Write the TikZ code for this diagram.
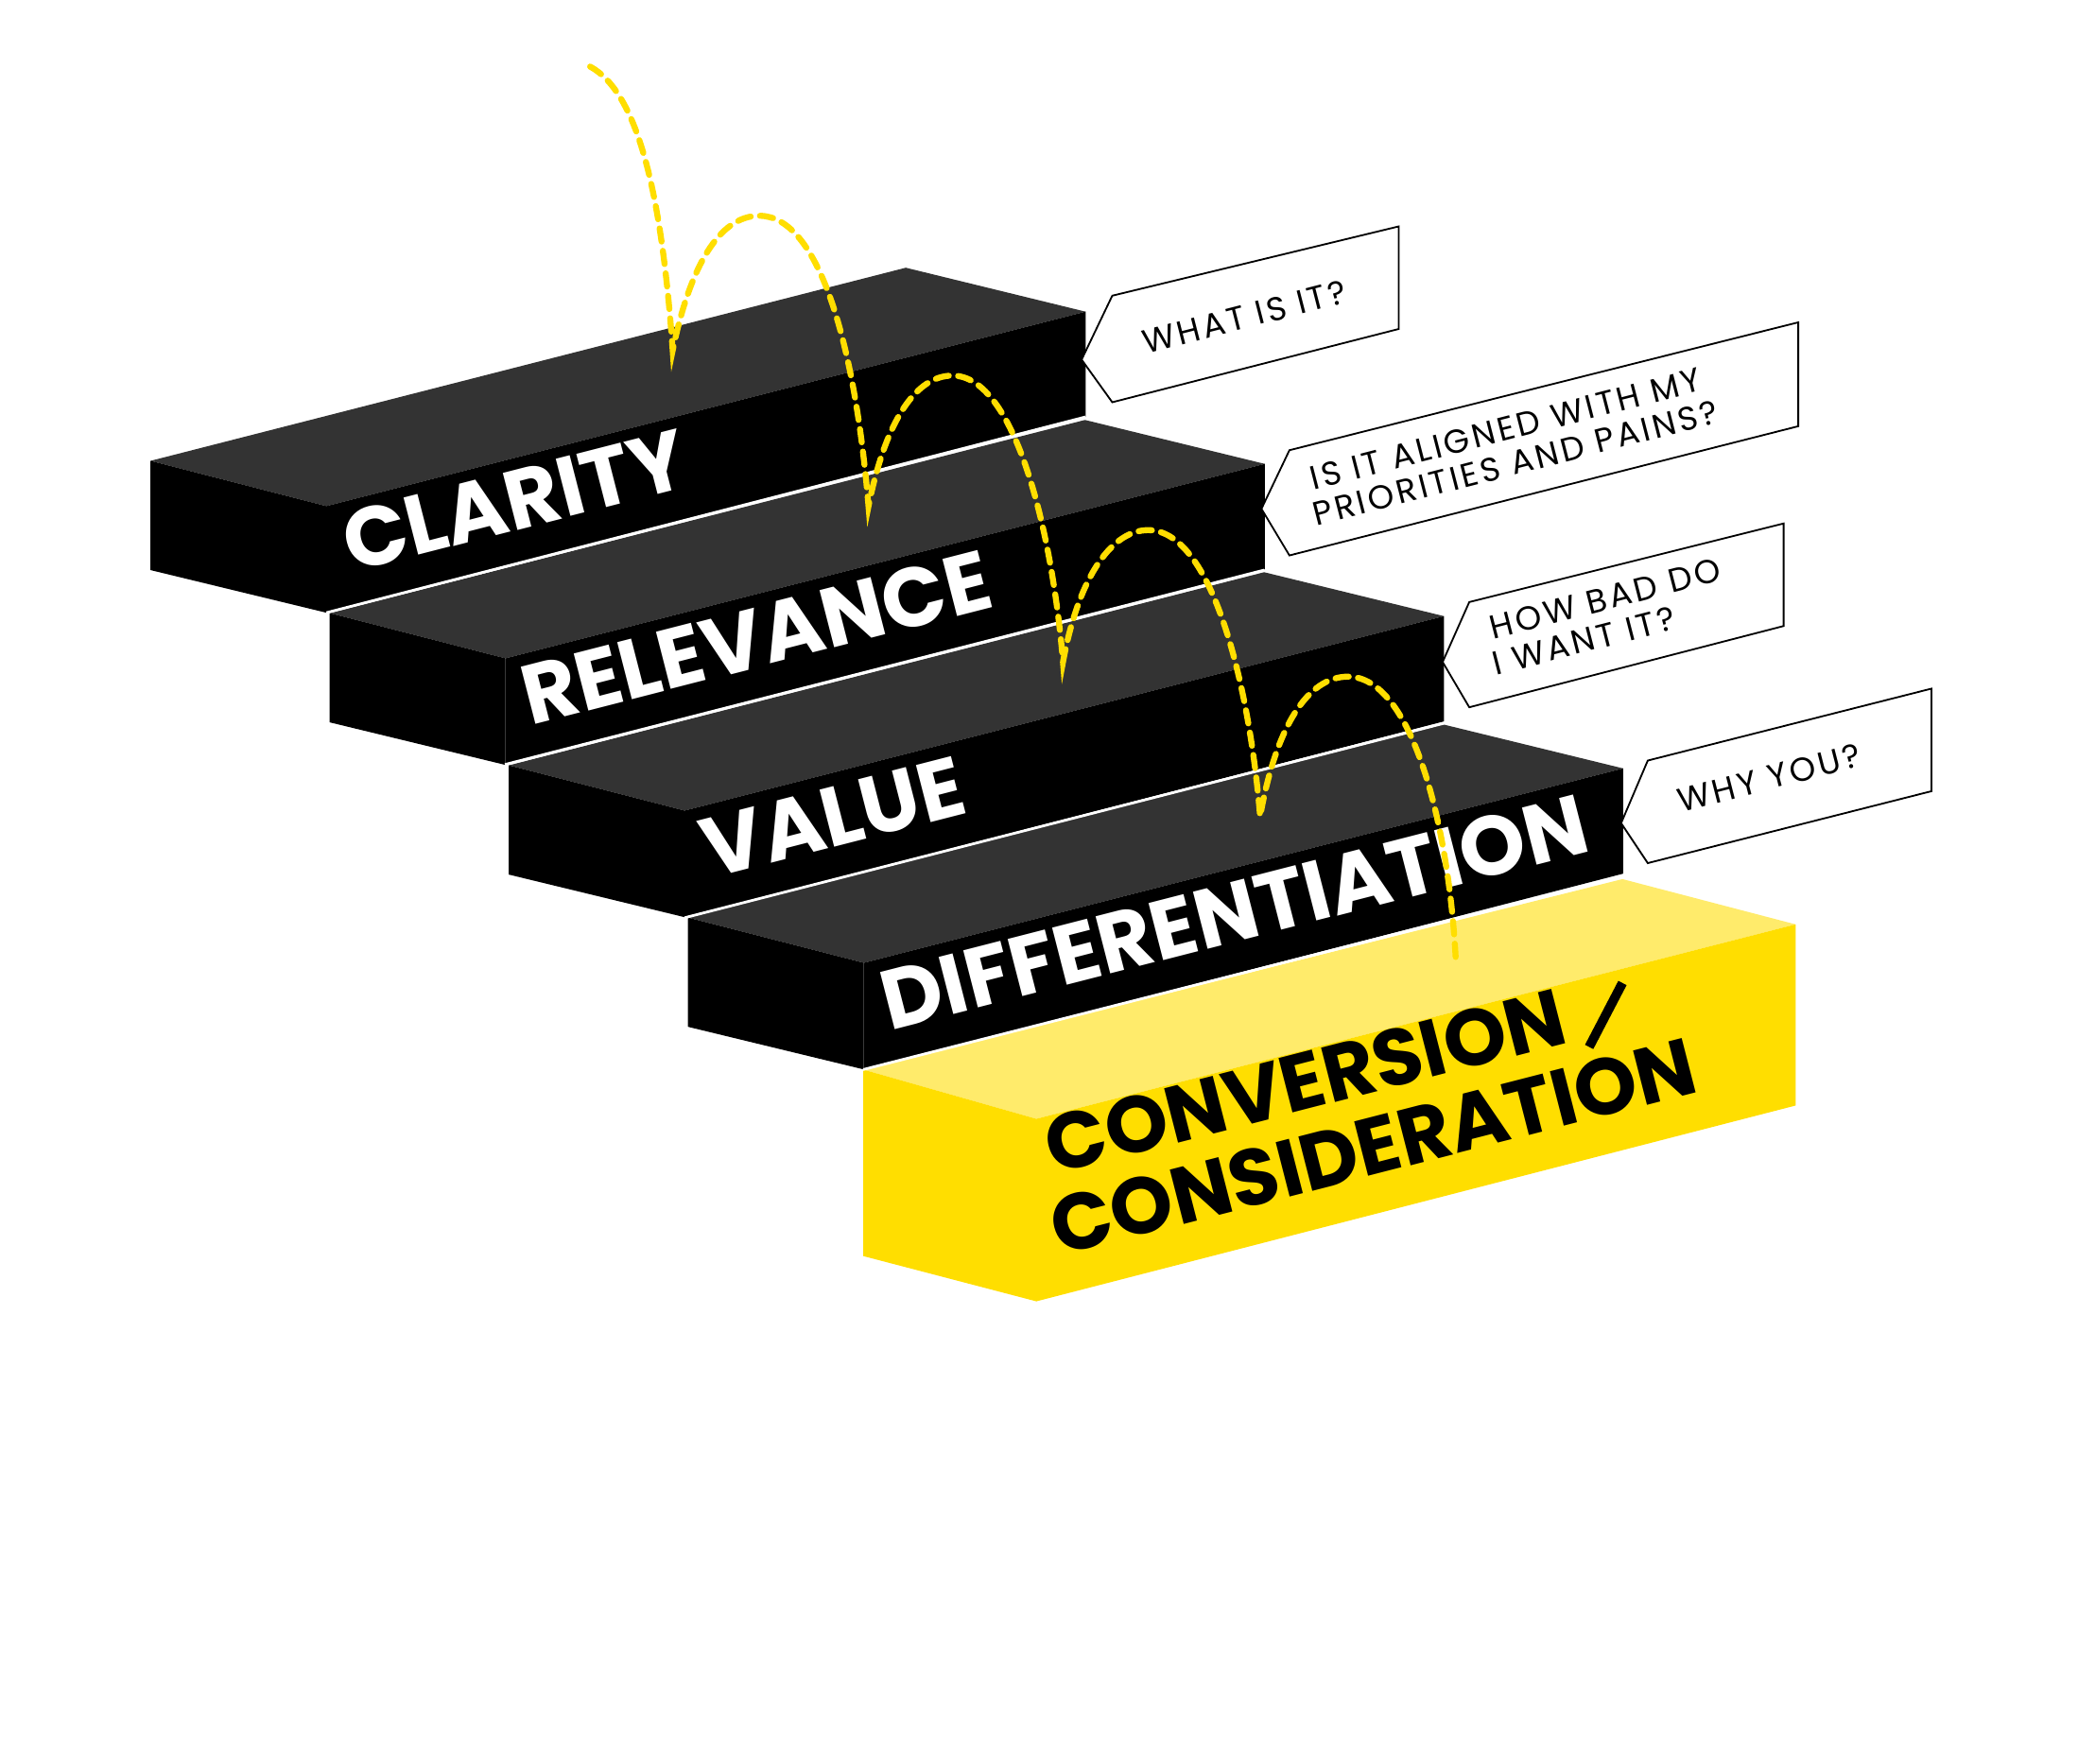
\documentclass[tikz,border=0pt]{standalone}
\usepackage{fontspec}
\setmainfont{Poppins}
\definecolor{topg}{HTML}{333333}
\definecolor{yel}{HTML}{FFDE00}
\definecolor{yeltop}{HTML}{FFEB6B}
\begin{document}
\begin{tikzpicture}[x=1pt,y=-1pt,
  big/.style={text=white,font=\fontsize{63}{63}\selectfont\bfseries,rotate=14.4,anchor=base west,inner sep=0},
  small/.style={font=\fontsize{25}{25}\selectfont\addfontfeatures{LetterSpace=9},rotate=14.4,anchor=base west,inner sep=0},
  callout/.style={draw=black,fill=white,line width=1.3pt,line join=miter}]
\useasboundingbox (0,0) rectangle (1560,1324);
% steps
\foreach \k in {0,1,2,3}{
  \begin{scope}[shift={(134.5*\k,114.3*\k)}]
  \fill[topg] (113,346)--(680,201)--(815,234)--(245,380)--cycle;
  \fill[black] (245,380)--(815,234)--(815,313)--(245,460)--cycle;
  \fill[black] (113,346)--(245,380)--(245,460)--(113,428)--cycle;
  \end{scope}}
\fill[yeltop] (648,803)--(1218,660)--(1348,694)--(778,840)--cycle;
\fill[yel] (778,840)--(1348,694)--(1348,830)--(778,977)--cycle;
\fill[yel] (648,803)--(778,840)--(778,977)--(648,943)--cycle;
\draw[white,line width=2pt] (245,460)--(815,313) (379,574)--(949,428) (514,689)--(1084,543) (648,803)--(1218,658);
% labels
\node[big] (c1) at (264,430) {CLARITY};
\node[big] (c2) at (398,545) {RELEVANCE};
\node[big] (c3) at (533,660) {VALUE};
\node[big] (c4) at (668,774) {DIFFERENTIATION};
\node[big,text=black,font=\fontsize{60}{60}\selectfont\bfseries] (c5a) at (791,882) {CONVERSION};
\node[big,text=black,font=\fontsize{60}{60}\selectfont\bfseries] (c5b) at (795,943) {CONSIDERATION};
\coordinate (s1) at (1193,786);
\coordinate (s2) at (1218,738);
\draw[black,line width=7pt] (s1) -- (s2);
% callouts
\draw[callout] (812,270)--(835,222)--(1050,170)--(1050,247)--(835,302)--cycle;
\draw[callout] (947,382)--(968,338)--(1350,242)--(1350,320)--(968,417)--cycle;
\draw[callout] (1083,497)--(1103,452)--(1339,393)--(1339,470)--(1103,531)--cycle;
\draw[callout] (1217,618)--(1237,571)--(1450,517)--(1450,594)--(1237,648)--cycle;
\node[small] (q1) at (860,266) {WHAT IS IT?};
\node[small] (q2a) at (986,368) {IS IT ALIGNED WITH MY};
\node[small] (q2b) at (988,395) {PRIORITIES AND PAINS?};
\node[small] (q3a) at (1121,480) {HOW BAD DO};
\node[small] (q3b) at (1123,507) {I WANT IT?};
\node[small] (q4) at (1262,610) {WHY YOU?};
% bounce
\draw[yel,line width=4.5pt,dash pattern=on 10pt off 7pt,line cap=round]
  (443,50) .. controls (480,70) and (497,150) .. (505,263)
  .. controls (518,200) and (540,162) .. (570,162)
  .. controls (615,162) and (642,260) .. (652,380)
  .. controls (665,315) and (688,282) .. (715,282)
  .. controls (762,282) and (790,400) .. (798,497)
  .. controls (810,432) and (835,398) .. (862,398)
  .. controls (910,398) and (938,515) .. (946,613)
  .. controls (958,545) and (982,508) .. (1012,508)
  .. controls (1060,508) and (1088,620) .. (1093,723);
\end{tikzpicture}
\end{document}
